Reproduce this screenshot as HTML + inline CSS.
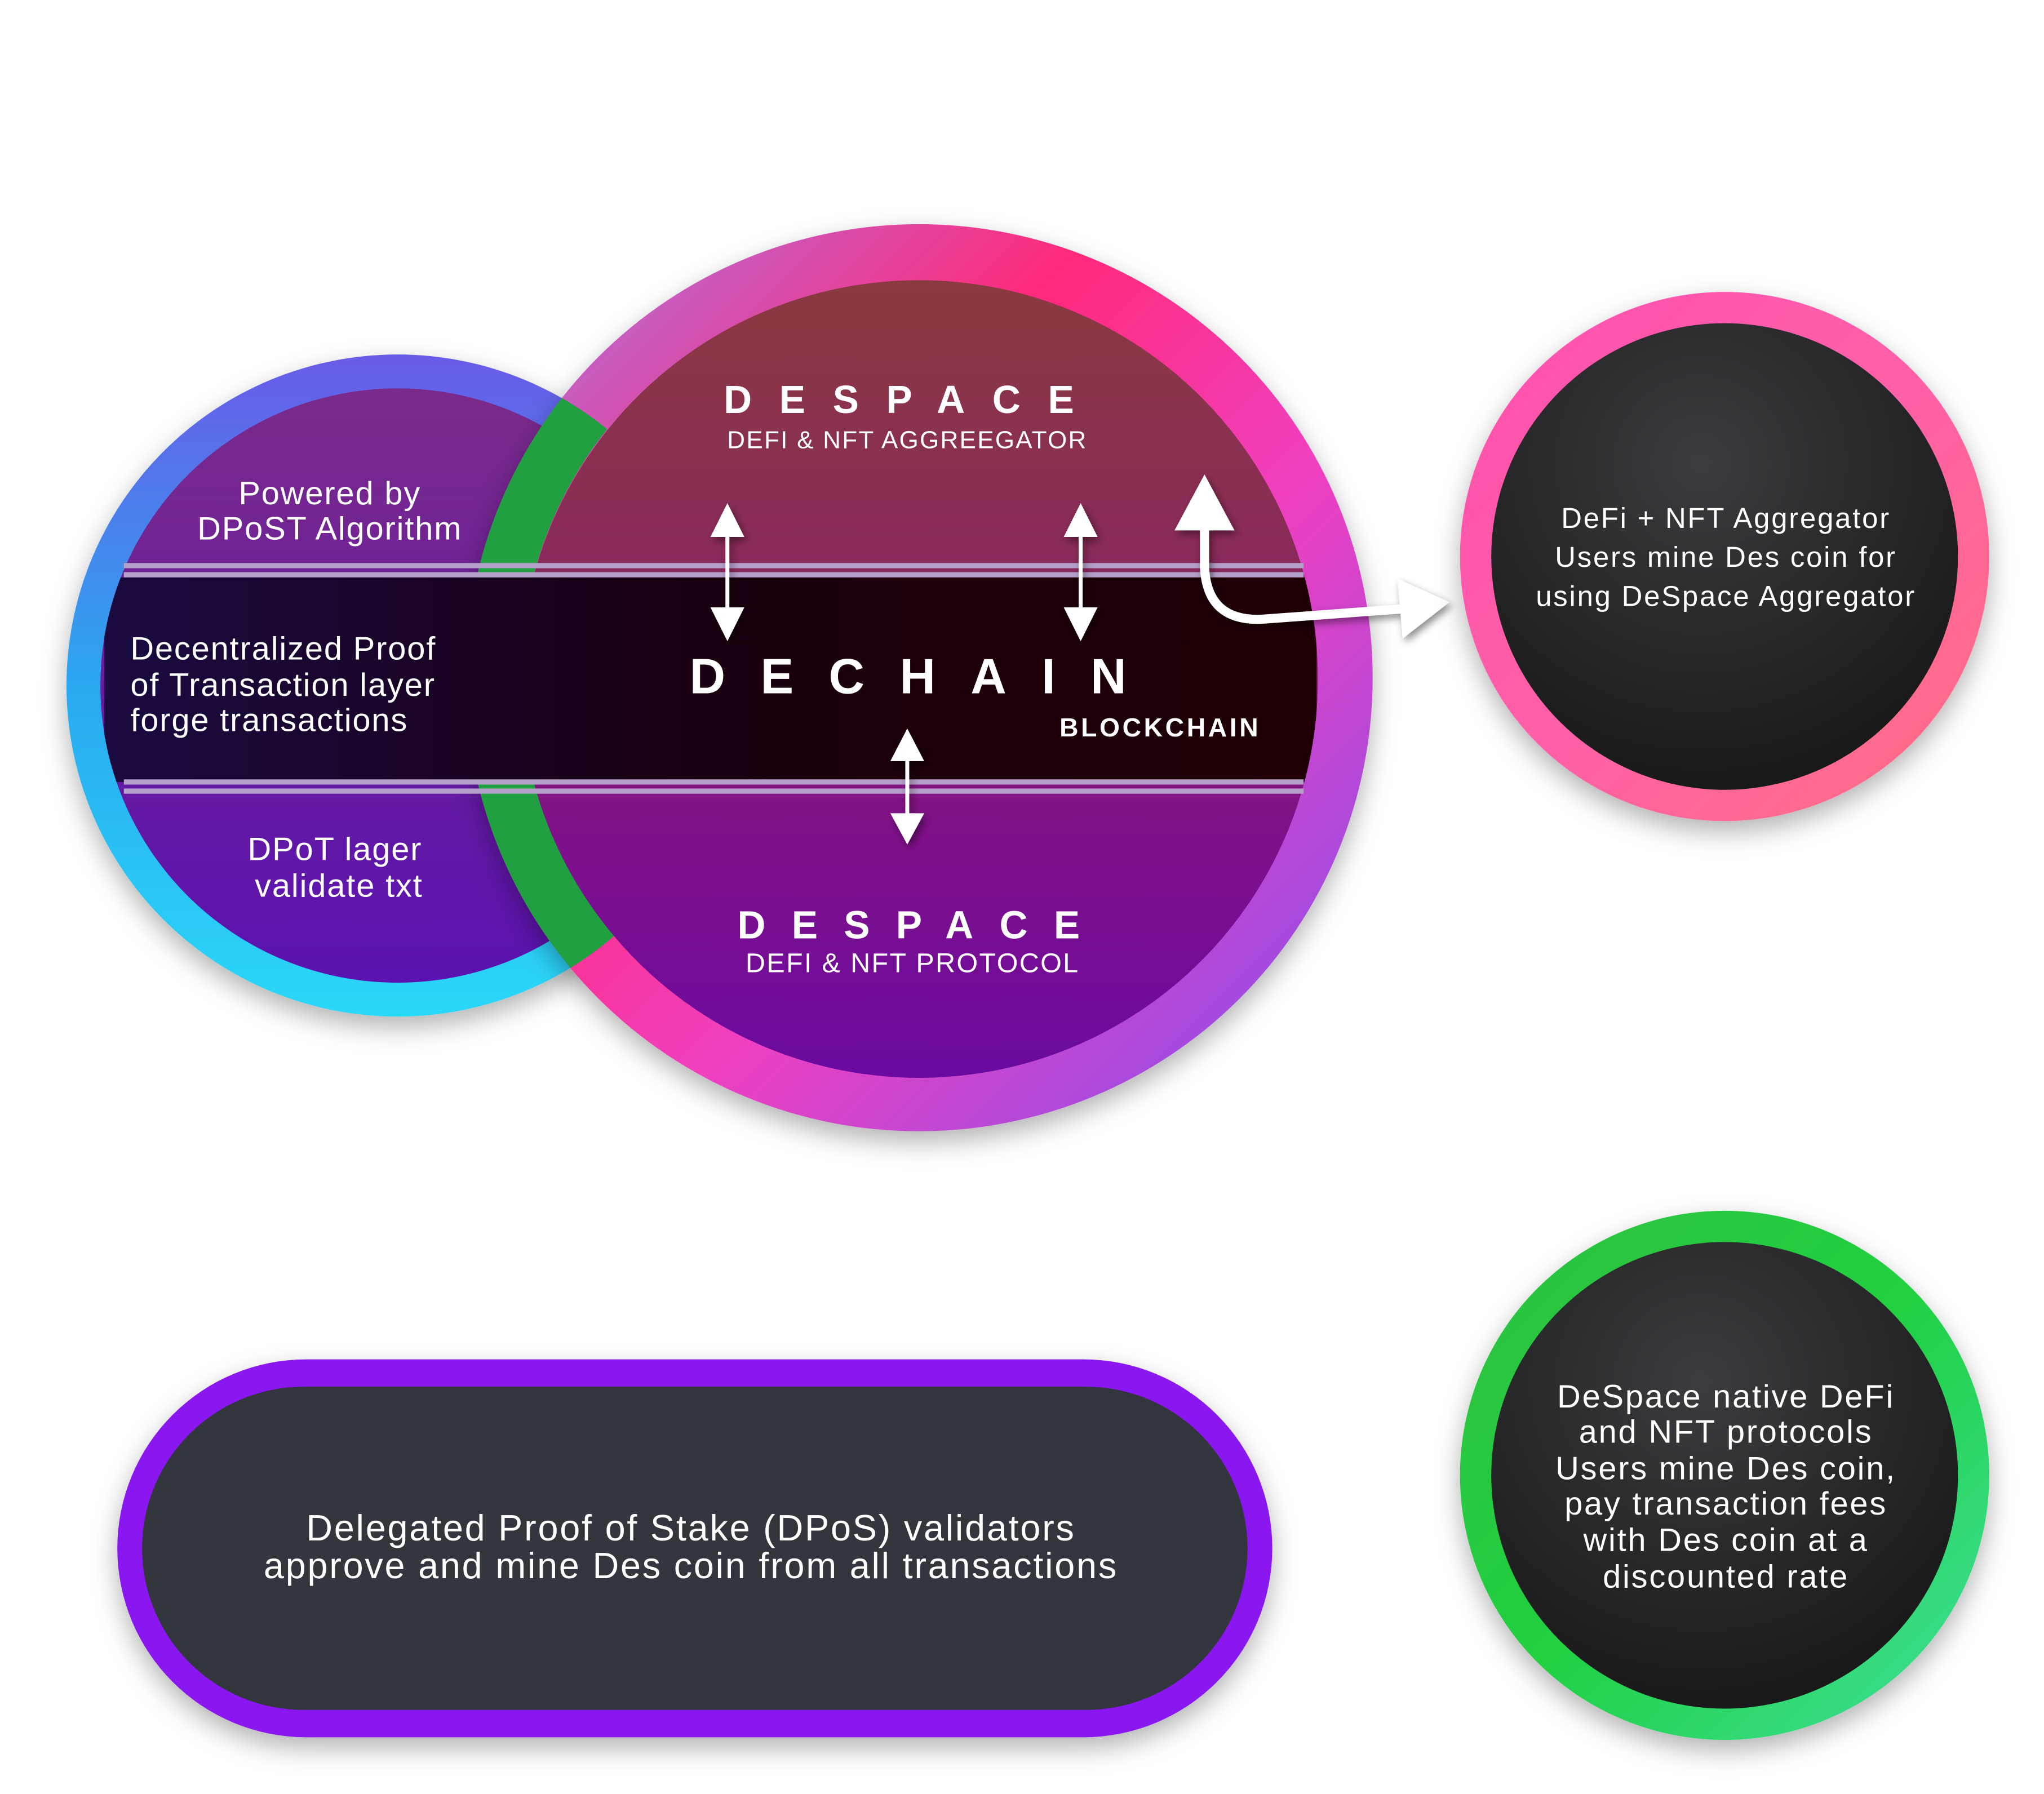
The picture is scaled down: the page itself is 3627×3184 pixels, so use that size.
<!DOCTYPE html>
<html><head><meta charset="utf-8"><style>
html,body{margin:0;padding:0;background:#fff;}
svg{display:block}
text{font-family:"Liberation Sans",sans-serif;fill:#fff;}
</style></head><body>
<svg width="3627" height="3184" viewBox="0 0 1568 1376.5" xmlns="http://www.w3.org/2000/svg">
<defs>
<linearGradient id="lring" x1="0" y1="0" x2="0" y2="1"><stop offset="0" stop-color="#6a5ae8"/><stop offset="0.5" stop-color="#2aa8f0"/><stop offset="1" stop-color="#2ad8f8"/></linearGradient>
<linearGradient id="linner" x1="0" y1="0" x2="0" y2="1"><stop offset="0" stop-color="#7a2a8a"/><stop offset="1" stop-color="#5a12b0"/></linearGradient>
<linearGradient id="bring" x1="0" y1="0" x2="1" y2="1"><stop offset="0" stop-color="#a080f0"/><stop offset="0.35" stop-color="#ff2a7a"/><stop offset="0.6" stop-color="#f040c0"/><stop offset="1" stop-color="#7a50f0"/></linearGradient>
<linearGradient id="binner" x1="0" y1="0" x2="0" y2="1"><stop offset="0" stop-color="#8a3a40"/><stop offset="0.35" stop-color="#8a2a5a"/><stop offset="0.7" stop-color="#80108a"/><stop offset="1" stop-color="#6a0aa0"/></linearGradient>
<radialGradient id="dark" cx="0.45" cy="0.3" r="0.8"><stop offset="0" stop-color="#3c3c40"/><stop offset="1" stop-color="#141414"/></radialGradient>
<linearGradient id="pring" x1="0" y1="0" x2="1" y2="1"><stop offset="0" stop-color="#ff50b0"/><stop offset="0.5" stop-color="#ff60a8"/><stop offset="1" stop-color="#ff7080"/></linearGradient>
<linearGradient id="gring" x1="0" y1="0" x2="1" y2="1"><stop offset="0" stop-color="#30c040"/><stop offset="0.5" stop-color="#20d040"/><stop offset="1" stop-color="#40e0a0"/></linearGradient>
<linearGradient id="band" x1="0" y1="0" x2="1" y2="0"><stop offset="0" stop-color="#1a0a40"/><stop offset="0.5" stop-color="#1a0010"/><stop offset="1" stop-color="#200005"/></linearGradient>
<clipPath id="lclip"><circle cx="305" cy="526" r="254"/></clipPath>
<clipPath id="allclip"><circle cx="305" cy="526" r="228"/><circle cx="705" cy="521" r="306"/><rect x="360" y="430" width="60" height="185"/></clipPath>
<filter id="sh" x="-20%" y="-20%" width="140%" height="140%"><feDropShadow dx="0" dy="8" stdDeviation="10" flood-color="#000" flood-opacity="0.3"/></filter>
<filter id="ash" x="-50%" y="-50%" width="200%" height="200%"><feDropShadow dx="2" dy="3" stdDeviation="3" flood-color="#000" flood-opacity="0.45"/></filter>
</defs>
<circle cx="305" cy="526" r="254" fill="url(#lring)" filter="url(#sh)"/>
<circle cx="305" cy="526" r="228" fill="url(#linner)"/>
<circle cx="705" cy="520" r="348" fill="url(#bring)" filter="url(#sh)"/>
<g clip-path="url(#lclip)"><circle cx="705" cy="520" r="327" fill="none" stroke="#20a040" stroke-width="42"/></g>
<circle cx="705" cy="521" r="306" fill="url(#binner)"/>
<g clip-path="url(#allclip)">
<rect x="80" y="443" width="930" height="157" fill="url(#band)"/>
</g>
<rect x="95" y="432" width="905" height="4" fill="#b4a0c8"/>
<rect x="95" y="439" width="905" height="4" fill="#b4a0c8"/>
<rect x="95" y="598" width="905" height="4" fill="#b4a0c8"/>
<rect x="95" y="605" width="905" height="4" fill="#b4a0c8"/>
<g font-size="25" letter-spacing="0.8">
<text x="253" y="387" text-anchor="middle">Powered by</text>
<text x="253" y="414" text-anchor="middle">DPoST Algorithm</text>
<text x="100" y="506">Decentralized Proof</text>
<text x="100" y="534">of Transaction layer</text>
<text x="100" y="561">forge transactions</text>
<text x="257" y="660" text-anchor="middle">DPoT lager</text>
<text x="260" y="688" text-anchor="middle">validate txt</text>
</g>
<text x="700" y="317" font-size="30" font-weight="bold" text-anchor="middle" letter-spacing="21">DESPACE</text>
<text x="696" y="344" font-size="19" text-anchor="middle" letter-spacing="1">DEFI &amp; NFT AGGREEGATOR</text>
<text x="710" y="532" font-size="38" font-weight="bold" text-anchor="middle" letter-spacing="27">DECHAIN</text>
<text x="890" y="565" font-size="20" font-weight="bold" text-anchor="middle" letter-spacing="2">BLOCKCHAIN</text>
<text x="707" y="720" font-size="30" font-weight="bold" text-anchor="middle" letter-spacing="20">DESPACE</text>
<text x="700" y="746" font-size="21" text-anchor="middle" letter-spacing="1">DEFI &amp; NFT PROTOCOL</text>
<g fill="#fff" stroke="#fff" filter="url(#ash)">
<line x1="558" y1="405" x2="558" y2="475" stroke-width="3"/>
<polygon points="558,386 545,412 571,412" stroke="none"/><polygon points="558,492 545,466 571,466" stroke="none"/>
<line x1="829" y1="405" x2="829" y2="475" stroke-width="3"/>
<polygon points="829,386 816,412 842,412" stroke="none"/><polygon points="829,492 816,466 842,466" stroke="none"/>
<line x1="696" y1="578" x2="696" y2="630" stroke-width="3"/>
<polygon points="696,559 683,584 709,584" stroke="none"/><polygon points="696,648 683,624 709,624" stroke="none"/>
<polygon points="924,364 901,407 947,407" stroke="none"/>
<path d="M924,405 L924,435 Q926,478 970,475 L1078,467" fill="none" stroke-width="7"/>
<polygon points="1112,462 1072,444 1076,490" stroke="none"/>
</g>
<circle cx="1323" cy="427" r="203" fill="url(#pring)" filter="url(#sh)"/>
<circle cx="1323" cy="427" r="179" fill="url(#dark)"/>
<g font-size="22" letter-spacing="1.2">
<text x="1324" y="405" text-anchor="middle">DeFi + NFT Aggregator</text>
<text x="1324" y="435" text-anchor="middle">Users mine Des coin for</text>
<text x="1324" y="465" text-anchor="middle">using DeSpace Aggregator</text>
</g>
<circle cx="1323" cy="1132" r="203" fill="url(#gring)" filter="url(#sh)"/>
<circle cx="1323" cy="1132" r="179" fill="url(#dark)"/>
<g font-size="25" letter-spacing="1.2">
<text x="1324" y="1080" text-anchor="middle">DeSpace native DeFi</text>
<text x="1324" y="1107" text-anchor="middle">and NFT protocols</text>
<text x="1324" y="1135" text-anchor="middle">Users mine Des coin,</text>
<text x="1324" y="1162" text-anchor="middle">pay transaction fees</text>
<text x="1324" y="1190" text-anchor="middle">with Des coin at a</text>
<text x="1324" y="1218" text-anchor="middle">discounted rate</text>
</g>
<rect x="90" y="1043" width="886" height="290" rx="145" fill="#8a18f0" filter="url(#sh)"/>
<rect x="109" y="1064" width="848" height="248" rx="124" fill="#33363d"/>
<text x="530" y="1182" font-size="28" letter-spacing="1.2" text-anchor="middle">Delegated Proof of Stake (DPoS) validators</text>
<text x="530" y="1211" font-size="28" letter-spacing="1.2" text-anchor="middle">approve and mine Des coin from all transactions</text>
</svg>
</body></html>
